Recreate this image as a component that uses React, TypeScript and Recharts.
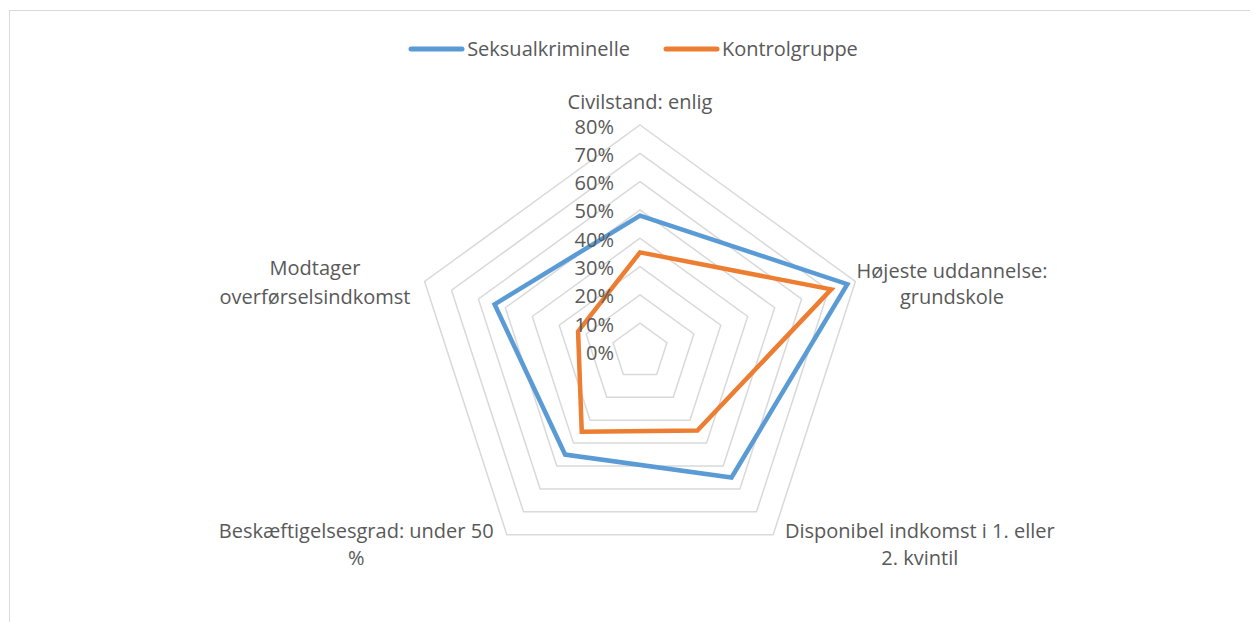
import React from "react";
import { RadarChart, Radar, PolarGrid, PolarAngleAxis, PolarRadiusAxis, Legend } from "recharts";

const categories = [
  "Civilstand: enlig",
  "Højeste uddannelse: grundskole",
  "Disponibel indkomst i 1. eller 2. kvintil",
  "Beskæftigelsesgrad: under 50 %",
  "Modtager overførselsindkomst",
];
const categoryLines = [
  ["Civilstand: enlig"],
  ["Højeste uddannelse:", "grundskole"],
  ["Disponibel indkomst i 1. eller", "2. kvintil"],
  ["Beskæftigelsesgrad: under 50", "%"],
  ["Modtager", "overførselsindkomst"],
];
// values in percent
const seksualkriminelle = [48, 77, 55, 45, 54];
const kontrolgruppe = [35, 71, 34.5, 35, 23];
const radiusDomain = [0, 80];
const radiusTickCount = 9;

const seriesNames = ["Seksualkriminelle", "Kontrolgruppe"];
const seriesColors = ["#5B9BD5", "#ED7D31"];

const data = categories.map((c, i) => ({
  category: c,
  s: seksualkriminelle[i],
  k: kontrolgruppe[i],
}));

const FONT = "'Open Sans', sans-serif";
const FS = 20;
const TEXT = "#595959";

// per-label layout relative to the axis tick point
const labelLayout = [
  { dx: 0, dy: [-16] },
  { dx: 89, dy: [-9, 17] },
  { dx: 142, dy: [-11, 16] },
  { dx: -146, dy: [-11, 16] },
  { dx: -102, dy: [-12, 17] },
];

const AngleTick = (props: any) => {
  const { x, y, payload } = props;
  const idx = categories.indexOf(payload.value);
  const lines = categoryLines[idx] || [payload.value];
  const lay = labelLayout[idx] || { dx: 0, dy: [0] };
  return (
    <g>
      {lines.map((l, i) => (
        <text
          key={i}
          x={x + lay.dx}
          y={y + lay.dy[i]}
          textAnchor="middle"
          dominantBaseline="central"
          fill={TEXT}
          fontSize={FS}
          fontFamily={FONT}
        >
          {l}
        </text>
      ))}
    </g>
  );
};

const RadiusTick = (props: any) => {
  const { x, y, payload } = props;
  return (
    <text
      x={x - 26}
      y={y + 1}
      textAnchor="end"
      dominantBaseline="central"
      fill={TEXT}
      fontSize={FS}
      fontFamily={FONT}
    >
      {`${Math.round(payload.value)}%`}
    </text>
  );
};

const LegendContent = () => (
  <div
    style={{
      display: "flex",
      justifyContent: "center",
      alignItems: "center",
      fontFamily: FONT,
      fontSize: FS,
      color: TEXT,
      gap: 33,
    }}
  >
    {seriesNames.map((n, i) => (
      <div key={n} style={{ display: "flex", alignItems: "center" }}>
        <svg width={57} height={8} style={{ marginRight: 2 }}>
          <line x1={3} y1={4} x2={54} y2={4} stroke={seriesColors[i]} strokeWidth={5} strokeLinecap="round" />
        </svg>
        <span>{n}</span>
      </div>
    ))}
  </div>
);

export default function App() {
  return (
    <div style={{ position: "relative", width: 1250, height: 614, overflow: "hidden" }}>
      <div
        style={{
          position: "absolute",
          left: 1,
          top: 2,
          right: 0,
          bottom: 0,
          borderTop: "1px solid #D9D9D9",
          borderLeft: "1px solid #D9D9D9",
        }}
      />
      <RadarChart
        width={1250}
        height={614}
        data={data}
        cx={632}
        cy={343.5}
        outerRadius={226.5}
        style={{ position: "absolute", left: 0, top: 0 }}
      >
        <PolarGrid gridType="polygon" radialLines={false} stroke="#D9D9D9" strokeWidth={1.5} />
        <PolarAngleAxis dataKey="category" tick={<AngleTick />} tickLine={false} axisLine={false} />
        <PolarRadiusAxis
          angle={90}
          domain={radiusDomain as any}
          tickCount={radiusTickCount}
          tick={<RadiusTick />}
          axisLine={false}
          tickLine={false}
        />
        <Radar
          name={seriesNames[0]}
          dataKey="s"
          stroke={seriesColors[0]}
          strokeWidth={4.5}
          fill="none"
          fillOpacity={0}
          dot={false}
          isAnimationActive={false}
        />
        <Radar
          name={seriesNames[1]}
          dataKey="k"
          stroke={seriesColors[1]}
          strokeWidth={4.5}
          fill="none"
          fillOpacity={0}
          dot={false}
          isAnimationActive={false}
        />
        <Legend
          verticalAlign="top"
          content={<LegendContent />}
          wrapperStyle={{ top: 27, left: 0, width: 1250 }}
        />
      </RadarChart>
    </div>
  );
}
